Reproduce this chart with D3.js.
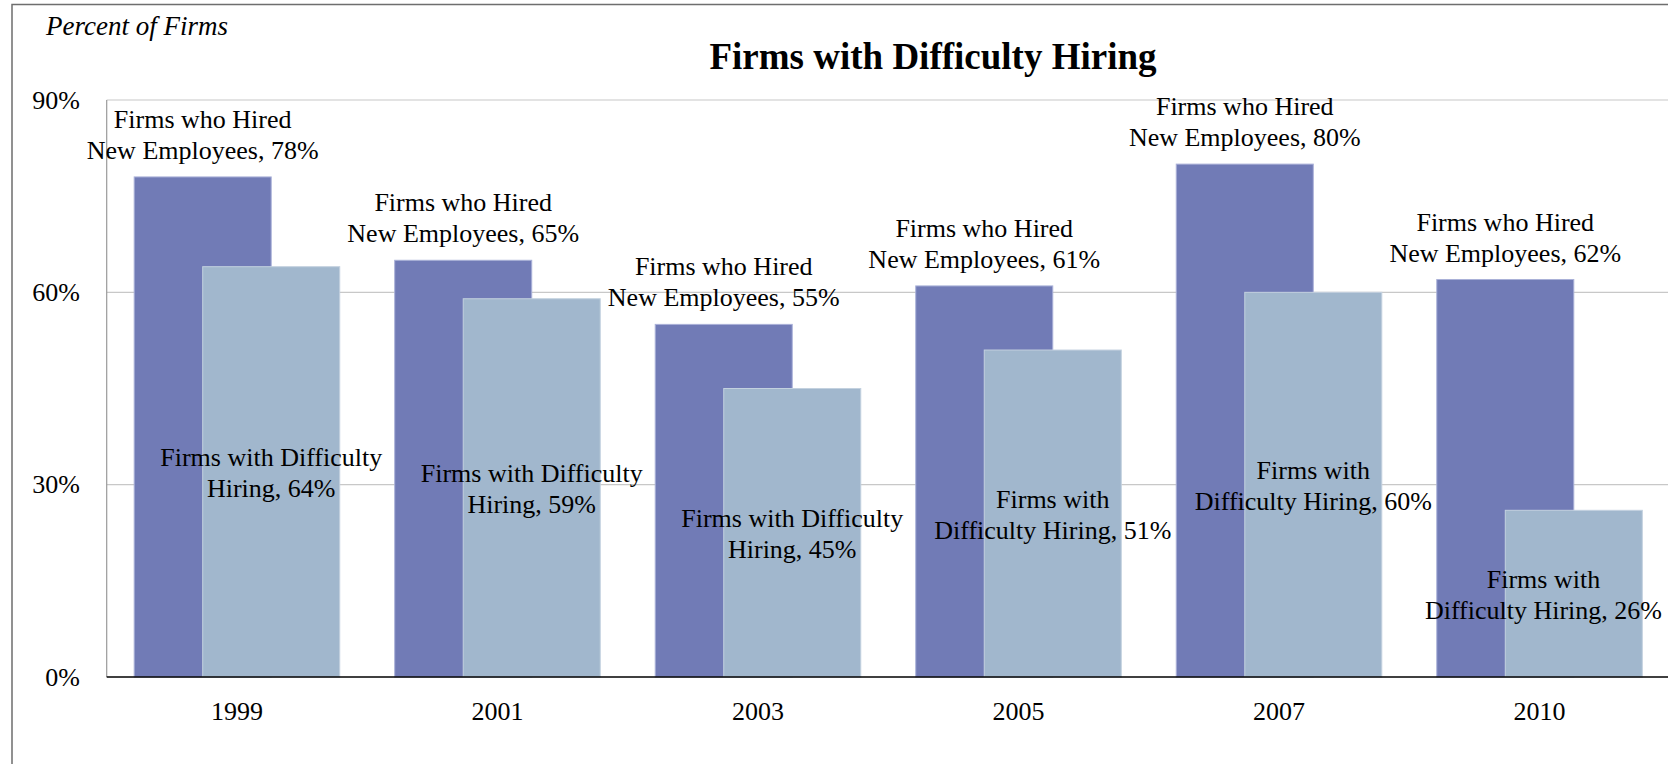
<!DOCTYPE html>
<html>
<head>
<meta charset="utf-8">
<script src="https://cdn.jsdelivr.net/npm/d3@7"></script>
<style>
  body { margin: 0; background: #fff; }
  svg text { font-family: "Liberation Serif", "Times New Roman", serif; fill: #000; }
</style>
</head>
<body>
<div id="chart"></div>
<script>
// data
const years = ['1999', '2001', '2003', '2005', '2007', '2010'];
const hired = [78, 65, 55, 61, 80, 62];
const difficulty = [64, 59, 45, 51, 60, 26];
const yTicks = [0, 30, 60, 90];
const hiredLabel = ['Firms who Hired', 'New Employees, '];
// wrapping of the difficulty labels differs per bar in the original
const difficultyLines = [
  ['Firms with Difficulty', 'Hiring, '],
  ['Firms with Difficulty', 'Hiring, '],
  ['Firms with Difficulty', 'Hiring, '],
  ['Firms with', 'Difficulty Hiring, '],
  ['Firms with', 'Difficulty Hiring, '],
  ['Firms with', 'Difficulty Hiring, ']
];

const width = 1668, height = 764;
const plot = { left: 106.7, right: 1669.8, top: 100, bottom: 677 };
const darkColor = '#717bb6', lightColor = '#a1b7cd';

const svg = d3.select('#chart').append('svg')
  .attr('width', width)
  .attr('height', height);

// outer chart border (runs off the right/bottom edge in the original)
svg.append('rect')
  .attr('x', 12).attr('y', 4.5)
  .attr('width', 2000).attr('height', 1000)
  .attr('fill', 'none')
  .attr('stroke', '#6e6e6e')
  .attr('stroke-width', 1.5);

const x = d3.scaleBand()
  .domain(years)
  .range([plot.left, plot.right])
  .paddingInner(0.211)
  .paddingOuter(0.1055);
const barW = x.bandwidth() / 1.5;

const y = d3.scaleLinear().domain([0, 90]).range([plot.bottom, plot.top]);

// gridlines
svg.append('g').selectAll('line')
  .data(yTicks.filter(d => d > 0))
  .enter().append('line')
  .attr('x1', plot.left).attr('x2', plot.right)
  .attr('y1', d => y(d)).attr('y2', d => y(d))
  .attr('stroke', '#c8c8c8')
  .attr('stroke-width', 1.2);

// plot left edge
svg.append('line')
  .attr('x1', plot.left).attr('x2', plot.left)
  .attr('y1', plot.top).attr('y2', plot.bottom)
  .attr('stroke', '#9a9a9a')
  .attr('stroke-width', 1.2);

const rows = years.map((yr, i) => ({ year: yr, hired: hired[i], diff: difficulty[i], lines: difficultyLines[i] }));

// dark bars
svg.append('g').selectAll('rect')
  .data(rows)
  .enter().append('rect')
  .attr('x', d => x(d.year))
  .attr('y', d => y(d.hired))
  .attr('width', barW)
  .attr('height', d => plot.bottom - y(d.hired))
  .attr('fill', darkColor)
  .attr('stroke', '#aab1d8')
  .attr('stroke-width', 1);

// light bars overlap the right half of the dark ones
svg.append('g').selectAll('rect')
  .data(rows)
  .enter().append('rect')
  .attr('x', d => x(d.year) + barW / 2)
  .attr('y', d => y(d.diff))
  .attr('width', barW)
  .attr('height', d => plot.bottom - y(d.diff))
  .attr('fill', lightColor)
  .attr('stroke', '#c3d1df')
  .attr('stroke-width', 1);

// x axis
const xAxis = svg.append('g')
  .attr('transform', 'translate(0,' + plot.bottom + ')')
  .call(d3.axisBottom(x).tickSize(0).tickPadding(24.5));
xAxis.select('.domain').remove();
xAxis.selectAll('text')
  .style('font-family', '"Liberation Serif", "Times New Roman", serif')
  .style('font-size', '26px')
  .attr('fill', '#000');

svg.append('line')
  .attr('x1', plot.left).attr('x2', plot.right)
  .attr('y1', plot.bottom).attr('y2', plot.bottom)
  .attr('stroke', '#000')
  .attr('stroke-width', 1.5);

// y axis
const yAxis = svg.append('g')
  .attr('transform', 'translate(' + plot.left + ',0)')
  .call(d3.axisLeft(y).tickValues(yTicks).tickFormat(d => d + '%').tickSize(0).tickPadding(26.7));
yAxis.select('.domain').remove();
yAxis.selectAll('text')
  .style('font-family', '"Liberation Serif", "Times New Roman", serif')
  .style('font-size', '26px')
  .attr('fill', '#000');

// data labels: hired series above bar
const hiredText = svg.append('g').selectAll('text')
  .data(rows)
  .enter().append('text')
  .attr('text-anchor', 'middle')
  .style('font-size', '26px')
  .attr('x', d => x(d.year) + barW / 2)
  .attr('y', d => y(d.hired) - 49);
hiredText.append('tspan')
  .attr('x', d => x(d.year) + barW / 2)
  .text(hiredLabel[0]);
hiredText.append('tspan')
  .attr('x', d => x(d.year) + barW / 2)
  .attr('dy', 31)
  .text(d => hiredLabel[1] + d.hired + '%');

// data labels: difficulty series centred in bar
const diffText = svg.append('g').selectAll('text')
  .data(rows)
  .enter().append('text')
  .attr('text-anchor', 'middle')
  .style('font-size', '26px')
  .attr('y', d => (y(d.diff) + plot.bottom) / 2 - 6);
diffText.append('tspan')
  .text(d => d.lines[0]);
diffText.append('tspan')
  .attr('dy', 31)
  .text(d => d.lines[1] + d.diff + '%');

// keep labels inside the chart area, like Excel does
diffText.each(function(d) {
  const t = d3.select(this);
  let cx = x(d.year) + barW;
  let half = 0;
  t.selectAll('tspan').each(function() {
    half = Math.max(half, this.getComputedTextLength() / 2);
  });
  if (cx + half > width - 6) cx = width - 6 - half;
  t.selectAll('tspan').attr('x', cx);
});

// title and unit
svg.append('text')
  .attr('x', 933).attr('y', 68.5)
  .attr('text-anchor', 'middle')
  .style('font-size', '37px')
  .style('font-weight', 'bold')
  .text('Firms with Difficulty Hiring');

svg.append('text')
  .attr('x', 46).attr('y', 35)
  .style('font-size', '27px')
  .style('font-style', 'italic')
  .text('Percent of Firms');
</script>
</body>
</html>
